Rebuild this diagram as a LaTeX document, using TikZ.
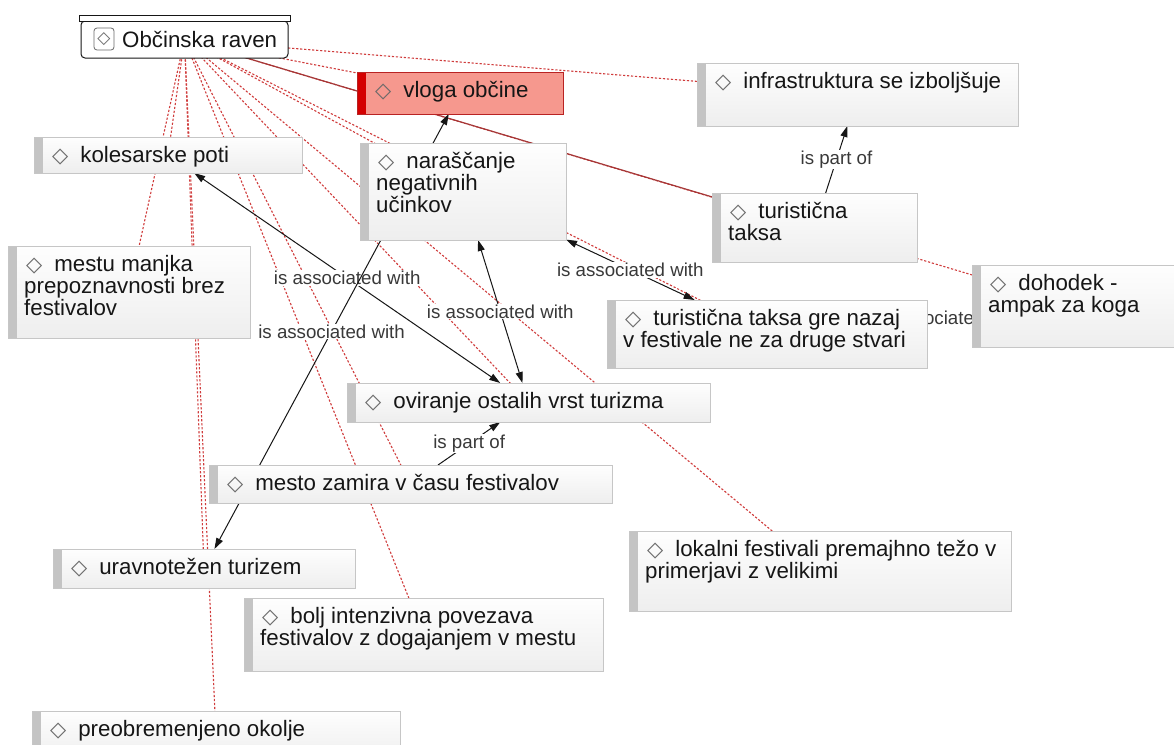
\documentclass[tikz,border=0pt]{standalone}
\usepackage{fontspec}
\setmainfont{Liberation Sans}
\newfontfamily\symfont{DejaVu Sans}
\usetikzlibrary{arrows.meta}
\pgfdeclarelayer{background}
\pgfdeclarelayer{canvas}
\pgfsetlayers{canvas,background,main}

\definecolor{reddot}{RGB}{208,60,60}
\definecolor{boxborder}{RGB}{198,198,198}
\definecolor{stripegray}{RGB}{196,196,196}
\definecolor{boxtop}{RGB}{254,254,254}
\definecolor{boxbot}{RGB}{238,238,238}
\definecolor{vfill}{RGB}{246,152,142}
\definecolor{vstripe}{RGB}{212,0,0}
\definecolor{vborder}{RGB}{185,35,35}
\definecolor{diagray}{RGB}{105,105,105}
\definecolor{ink}{RGB}{22,22,22}
\definecolor{solidred}{RGB}{165,55,55}

\newcommand\dia{{\symfont\fontsize{21}{21}\selectfont\color{diagray}◇}}
\newcommand\nodefont{\fontsize{22.3}{22}\selectfont\lineskiplimit=-40pt}
\newcommand\lblfont{\fontsize{18.7}{19}\selectfont}

\tikzset{
  gboxs/.style={draw=boxborder, line width=0.8pt, top color=boxtop, bottom color=boxbot,
    inner sep=0pt, outer sep=0pt,
    path picture={\fill[stripegray] (path picture bounding box.north west) rectangle ([xshift=9pt]path picture bounding box.south west);}},
  vboxs/.style={draw=vborder, line width=0.8pt, fill=vfill, inner sep=0pt, outer sep=0pt,
    path picture={\fill[vstripe] (path picture bounding box.north west) rectangle ([xshift=9pt]path picture bounding box.south west);}},
  txt/.style={anchor=north west, inner sep=0pt, align=left, font=\nodefont, text=ink},
  lbl/.style={fill=white, inner sep=1pt, font=\lblfont, text=ink!85},
  reddots/.style={draw=reddot, line width=1.1pt, dash pattern=on 2.2pt off 1.8pt},
  solidlink/.style={draw=solidred, line width=1.2pt},
  assoc/.style={draw=ink, line width=1pt},
  >={Triangle[length=11pt,width=7pt]},
}

% name, x1, y1, x2, y2, text
\newcommand\gb[7][gboxs]{%
  \node[#1, minimum width=#5pt-#3pt, minimum height=#6pt-#4pt] (#2) at ({(#3+#5)/2},{(#4+#6)/2}) {};
  \node[txt] (#2-t) at ([xshift=16pt,yshift=-3pt]#2.north west) {\rule{0pt}{22pt}\hspace*{2pt}\dia\hspace{12pt}#7};
}

\begin{document}
\begin{tikzpicture}[x=1pt,y=-1pt]
\useasboundingbox (0,0) rectangle (1174,744);
\begin{pgfonlayer}{canvas}
  \fill[white] (0,0) rectangle (1174,744);
\end{pgfonlayer}

% root
\node[draw=ink, fill=white, line width=1pt, rounded corners=4pt, minimum width=207pt, minimum height=37pt, inner sep=0pt, outer sep=0pt] (root) at (184.5,39.5) {};
\node[draw=ink, fill=white, line width=1pt, minimum width=211pt, minimum height=6pt, inner sep=0pt] (rootbar) at (184.5,18) {};
\node[draw=diagray, rounded corners=3pt, line width=0.8pt, minimum width=20pt, minimum height=22pt, inner sep=0pt] (rooticon) at (104,39) {{\symfont\fontsize{17}{17}\selectfont\color{diagray}◇}};
\node[anchor=base west, inner sep=0pt, font=\nodefont, text=ink] (roottext) at (122,47) {Občinska raven};

\gb[vboxs]{vloga}{357}{72}{563}{114}{vloga občine}
\gb{infra}{697}{63}{1018}{126}{infrastruktura se izboljšuje}
\gb{kol}{34}{137}{302}{173}{kolesarske poti}
\gb{nar}{360}{143}{566}{240}{naraščanje\\negativnih\\učinkov}
\gb{taksa}{712}{193}{917}{262}{turistična\\taksa}
\gb{mestu}{8}{246}{250}{338}{mestu manjka\\prepoznavnosti brez\\festivalov}
\gb{doh}{972}{265}{1180}{347}{dohodek -\\ampak za koga}
\gb{tgn}{607}{300}{927}{368}{turistična taksa gre nazaj\\v festivale ne za druge stvari}
\gb{ovi}{347}{383}{710}{422}{oviranje ostalih vrst turizma}
\gb{mz}{209}{465}{612}{503}{mesto zamira v času festivalov}
\gb{urav}{53}{549}{355}{588}{uravnotežen turizem}
\gb{lok}{629}{531}{1011}{611}{lokalni festivali premajhno težo v\\primerjavi z velikimi}
\gb{bolj}{244}{598}{603}{671}{bolj intenzivna povezava\\festivalov z dogajanjem v mestu}
\gb{preob}{32}{711}{400}{760}{preobremenjeno okolje}

\begin{pgfonlayer}{background}
  \foreach \tg in {infra,vloga,doh,nar,tgn,lok,ovi,mz,bolj,kol,mestu,urav,preob}
    \draw[reddots] (root.center) -- (\tg.center);
  \draw[solidlink] (root.center) -- (taksa.center);

  \draw[assoc,<->] (kol) -- node[lbl]{is associated with} (ovi);
  \draw[assoc,<->] (vloga) -- node[lbl]{is associated with} (urav);
  \draw[assoc,<->] (nar) -- node[lbl]{is associated with} (ovi);
  \draw[assoc,<->] (nar) -- node[lbl]{is associated with} (tgn);
  \draw[assoc] (tgn) -- node[lbl]{is associated with} (doh);
  \draw[assoc,->] (taksa) -- node[lbl]{is part of} (infra);
  \draw[assoc,->] (mz) -- node[lbl]{is part of} (ovi);
\end{pgfonlayer}
\end{tikzpicture}
\end{document}
